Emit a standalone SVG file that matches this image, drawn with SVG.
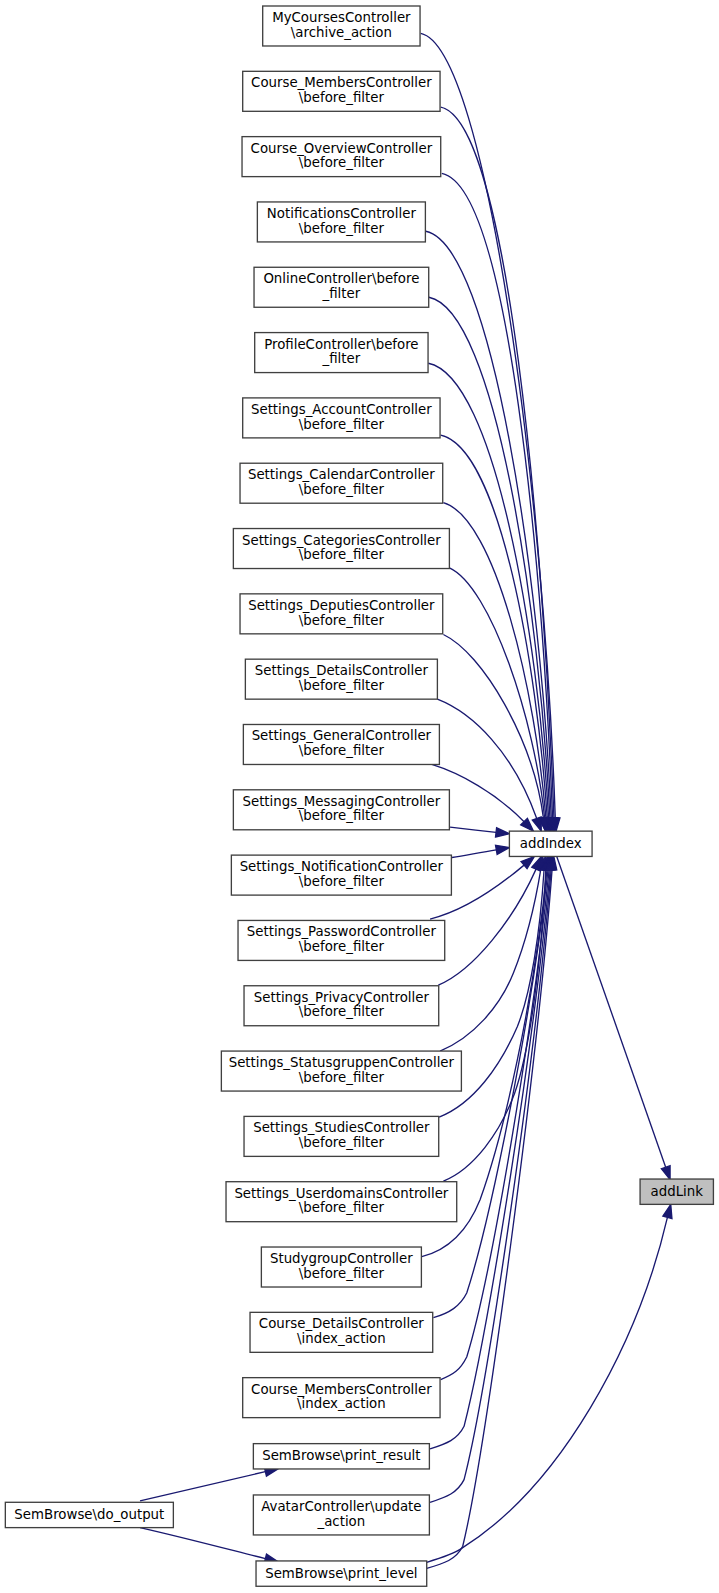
<svg xmlns="http://www.w3.org/2000/svg" width="719" height="1593" viewBox="0 0 719 1593">
<style>
.n rect{fill:#fff;stroke:#404040;stroke-width:1}
.n text{font-family:"DejaVu Sans","Liberation Sans",sans-serif;font-size:10px;text-anchor:middle;fill:#000}
.e path{fill:none;stroke:#191970;stroke-width:1}
.e polygon{fill:#191970;stroke:#191970;stroke-width:1}
</style>
<rect width="719" height="1593" fill="#fff"/>
<g transform="scale(1.3335 1.333)">
<g id="edges" class="e">
<path d="M315.5,25 C365.5,35 408.4,378 416.4,613.5"/><polygon points="412.9,613.5 417,623.5 419.9,613.5"/>
<path d="M330.5,80.3 C380.5,90.3 407.4,400 415.4,613.5"/><polygon points="411.9,613.5 416,623.5 418.9,613.5"/>
<path d="M331.3,130 C381.3,140 406.4,420 414.4,613.5"/><polygon points="410.9,613.5 415,623.5 417.9,613.5"/>
<path d="M319.3,173.5 C369.3,183.5 405.4,437.5 413.4,613.5"/><polygon points="409.9,613.5 414,623.5 416.9,613.5"/>
<path d="M321.7,223 C371.7,233 404.4,457.3 412.4,613.5"/><polygon points="408.9,613.5 413,623.5 415.9,613.5"/>
<path d="M321.2,272.5 C371.2,282.5 403.4,477 411.4,613.5"/><polygon points="407.9,613.5 412,623.5 414.9,613.5"/>
<path d="M330.5,326.5 C375,336.5 402.4,498.7 410.4,613.5"/><polygon points="406.9,613.5 411,623.5 413.9,613.5"/>
<path d="M332.5,377 C372,389 401.4,519 409.4,613.5"/><polygon points="405.9,613.5 410,623.5 412.9,613.5"/>
<path d="M337,426 C368,440 401,540 408.4,613.5"/><polygon points="404.9,613.5 409,623.5 411.9,613.5"/>
<path d="M332.5,476 C362,490 400,555 407.5,613.6"/><polygon points="404.05,614.2 409.2,623.5 410.95,613"/>
<path d="M328,524.5 C355,535 385,565 402.5,614"/><polygon points="399.2,615.2 405.9,623.5 405.8,612.8"/>
<path d="M323.8,573.5 C345,580 372,595 393,616.4"/><polygon points="390.5,618.85 400,623.5 395.5,613.95"/>
<path d="M337.5,620.5 C350,622 360,623 372,624.4"/><polygon points="371.6,627.9 382,625.5 372.4,620.9"/>
<path d="M339,643.3 C350,641.5 360,639.5 372.2,637.5"/><polygon points="372.8,640.95 382,635.8 371.6,634.05"/>
<path d="M322.5,689.5 C345,684 368,670 393,649"/><polygon points="390.75,646.3 400.7,642.5 395.25,651.7"/>
<path d="M328.7,739 C355,728 385,690 402,652"/><polygon points="398.8,650.6 406,642.5 405.2,653.4"/>
<path d="M330,788.5 C355,778 375,755 385,730 C393,710 401,680 405.5,652.4"/><polygon points="402.04,651.9 407,642.5 408.96,652.9"/>
<path d="M329.3,838 C355,828 375,800 388,770 C398,745 405,700 408,652.5"/><polygon points="404.5,652.15 409,642.5 411.5,652.85"/>
<path d="M332.5,886 C355,877 375,850 386,820 C398,785 406,720 409.3,652.5"/><polygon points="405.8,652.5 410.5,642.5 412.8,652.5"/>
<path d="M316.3,942.7 C335,938 350,925 360,900 C378,850 400,752 410.2,652.5"/><polygon points="406.7,652.5 411.5,642.5 413.7,652.5"/>
<path d="M325,988.5 C337,985 345,980 350,970 C368,915 399,760 411,652.5"/><polygon points="407.5,652.5 412.3,642.5 414.5,652.5"/>
<path d="M330.5,1035 C340,1031 345,1028 350,1018 C368,960 400,770 411.8,652.5"/><polygon points="408.3,652.5 413,642.5 415.3,652.5"/>
<path d="M322.5,1087 C335,1083 343,1080 348,1070 C366,1000 401,780 412.6,652.5"/><polygon points="409.1,652.5 413.8,642.5 416.1,652.5"/>
<path d="M322.5,1127 C335,1123 343,1120 348,1110 C366,1040 402,790 413.3,652.5"/><polygon points="409.8,652.5 414.5,642.5 416.8,652.5"/>
<path d="M320,1176.5 C333,1173 342,1170 347,1160 C364,1090 403,800 414,652.5"/><polygon points="410.5,652.5 415.3,642.5 417.5,652.5"/>
<path d="M417.5,642.5 L499.2,875.6"/><polygon points="495.9,876.75 502.5,885 502.5,874.45"/>
<path d="M320,1172 C330,1169 340,1166 347,1161 C420,1115 478,1010 500.5,913.2"/><polygon points="497.1,912.3 503,903.5 503.9,914.1"/>
<path d="M105,1126 C140,1118 170,1111 199,1104"/><polygon points="199.8,1107.4 208.75,1101.75 198.2,1100.6"/>
<path d="M105,1146 C140,1154 170,1162 199,1169.3"/><polygon points="198.15,1172.7 208.75,1171.75 199.85,1165.9"/>
</g>
<g id="n0" class="n"><rect x="197" y="4.5" width="118" height="30"/><text x="256" y="16.5">MyCoursesController</text><text x="256" y="27.5">\archive_action</text></g>
<g id="n1" class="n"><rect x="182" y="53.5" width="148" height="30"/><text x="256" y="65.5">Course_MembersController</text><text x="256" y="76.5">\before_filter</text></g>
<g id="n2" class="n"><rect x="181.5" y="102.5" width="149" height="30"/><text x="256" y="114.5">Course_OverviewController</text><text x="256" y="125.5">\before_filter</text></g>
<g id="n3" class="n"><rect x="193" y="151.5" width="126" height="30"/><text x="256" y="163.5">NotificationsController</text><text x="256" y="174.5">\before_filter</text></g>
<g id="n4" class="n"><rect x="190.5" y="200.5" width="131" height="30"/><text x="256" y="212.5">OnlineController\before</text><text x="256" y="223.5">_filter</text></g>
<g id="n5" class="n"><rect x="191" y="249.5" width="130" height="30"/><text x="256" y="261.5">ProfileController\before</text><text x="256" y="272.5">_filter</text></g>
<g id="n6" class="n"><rect x="182" y="298.5" width="148" height="30"/><text x="256" y="310.5">Settings_AccountController</text><text x="256" y="321.5">\before_filter</text></g>
<g id="n7" class="n"><rect x="180" y="347.5" width="152" height="30"/><text x="256" y="359.5">Settings_CalendarController</text><text x="256" y="370.5">\before_filter</text></g>
<g id="n8" class="n"><rect x="175" y="396.5" width="162" height="30"/><text x="256" y="408.5">Settings_CategoriesController</text><text x="256" y="419.5">\before_filter</text></g>
<g id="n9" class="n"><rect x="180" y="445.5" width="152" height="30"/><text x="256" y="457.5">Settings_DeputiesController</text><text x="256" y="468.5">\before_filter</text></g>
<g id="n10" class="n"><rect x="184" y="494.5" width="144" height="30"/><text x="256" y="506.5">Settings_DetailsController</text><text x="256" y="517.5">\before_filter</text></g>
<g id="n11" class="n"><rect x="182.5" y="543.5" width="147" height="30"/><text x="256" y="555.5">Settings_GeneralController</text><text x="256" y="566.5">\before_filter</text></g>
<g id="n12" class="n"><rect x="175" y="592.5" width="162" height="30"/><text x="256" y="604.5">Settings_MessagingController</text><text x="256" y="615.5">\before_filter</text></g>
<g id="n13" class="n"><rect x="173.5" y="641.5" width="165" height="30"/><text x="256" y="653.5">Settings_NotificationController</text><text x="256" y="664.5">\before_filter</text></g>
<g id="n14" class="n"><rect x="178.5" y="690.5" width="155" height="30"/><text x="256" y="702.5">Settings_PasswordController</text><text x="256" y="713.5">\before_filter</text></g>
<g id="n15" class="n"><rect x="183" y="739.5" width="146" height="30"/><text x="256" y="751.5">Settings_PrivacyController</text><text x="256" y="762.5">\before_filter</text></g>
<g id="n16" class="n"><rect x="166" y="788.5" width="180" height="30"/><text x="256" y="800.5">Settings_StatusgruppenController</text><text x="256" y="811.5">\before_filter</text></g>
<g id="n17" class="n"><rect x="183" y="837.5" width="146" height="30"/><text x="256" y="849.5">Settings_StudiesController</text><text x="256" y="860.5">\before_filter</text></g>
<g id="n18" class="n"><rect x="169.5" y="886.5" width="173" height="30"/><text x="256" y="898.5">Settings_UserdomainsController</text><text x="256" y="909.5">\before_filter</text></g>
<g id="n19" class="n"><rect x="196" y="935.5" width="120" height="30"/><text x="256" y="947.5">StudygroupController</text><text x="256" y="958.5">\before_filter</text></g>
<g id="n20" class="n"><rect x="187.5" y="984.5" width="137" height="30"/><text x="256" y="996.5">Course_DetailsController</text><text x="256" y="1007.5">\index_action</text></g>
<g id="n21" class="n"><rect x="182" y="1033.5" width="148" height="30"/><text x="256" y="1045.5">Course_MembersController</text><text x="256" y="1056.5">\index_action</text></g>
<g id="n22" class="n"><rect x="190" y="1083" width="132" height="19"/><text x="256" y="1095.5">SemBrowse\print_result</text></g>
<g id="n23" class="n"><rect x="190" y="1121.5" width="132" height="30"/><text x="256" y="1133.5">AvatarController\update</text><text x="256" y="1144.5">_action</text></g>
<g id="n24" class="n"><rect x="192" y="1171" width="128" height="19"/><text x="256" y="1183.5">SemBrowse\print_level</text></g>
<g id="n25" class="n"><rect x="4" y="1127" width="126" height="19"/><text x="67" y="1139.5">SemBrowse\do_output</text></g>
<g id="n26" class="n"><rect x="382" y="623.5" width="62" height="19"/><text x="413" y="636">addIndex</text></g>
<g id="n27" class="n"><rect x="480" y="884.5" width="55" height="19" style="fill:#bfbfbf"/><text x="507.5" y="897">addLink</text></g>
</g>
</svg>
